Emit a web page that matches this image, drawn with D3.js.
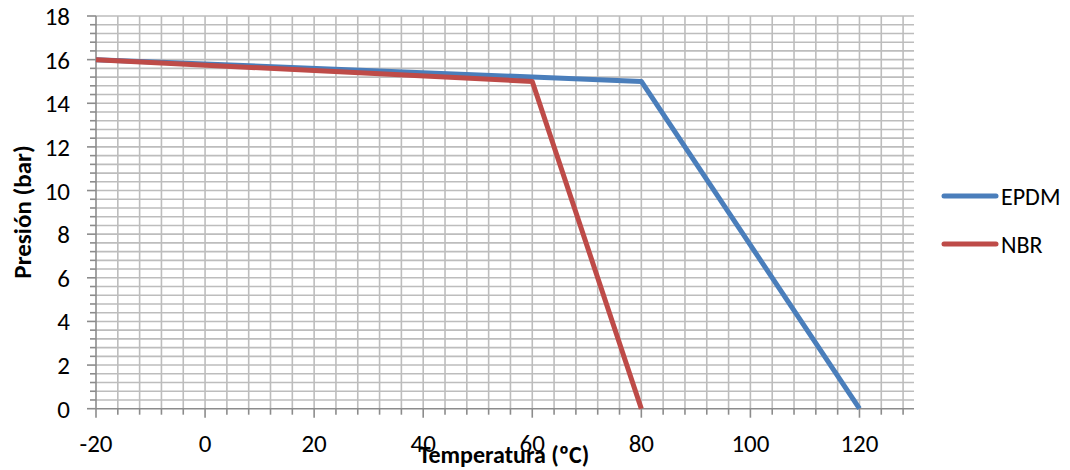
<!DOCTYPE html>
<html>
<head>
<meta charset="utf-8">
<script src="https://cdn.jsdelivr.net/npm/d3@7"></script>
<style>
  body { margin: 0; background: #fff; }
  text { font-family: Carlito, Lato, "Liberation Sans", sans-serif; }
</style>
</head>
<body>
<script>
// chart data
var seriesNames = ["EPDM", "NBR"];
var epdmTemp = [-20, 80, 120];
var epdmPres = [16, 15, 0];
var nbrTemp = [-20, 60, 80];
var nbrPres = [16, 15, 0];
var xTickLabels = [-20, 0, 20, 40, 60, 80, 100, 120];
var yTickLabels = [0, 2, 4, 6, 8, 10, 12, 14, 16, 18];

function show_chart(width, height) {
    var svg = d3.select("body").append("svg")
                .attr("width", width)
                .attr("height", height);

    var colors = ["#4a7ebb", "#be4b48"];
    var gridColor = "#bdbdbd";

    var xScale = d3.scaleLinear().domain([-20, 130]).range([96, 914]);
    var yScale = d3.scaleLinear().domain([0, 18]).range([408.7, 16]);

    // minor gridlines
    var xGrid = d3.range(-16, 129, 4);
    var yGrid = d3.range(1, 46).map(function(i) { return +(i * 0.4).toFixed(1); });

    svg.append("g").selectAll("line")
        .data(xGrid).enter().append("line")
        .attr("x1", function(d) { return xScale(d); })
        .attr("x2", function(d) { return xScale(d); })
        .attr("y1", yScale(0)).attr("y2", yScale(18))
        .attr("stroke", gridColor).attr("stroke-width", 1.6);

    svg.append("g").selectAll("line")
        .data(yGrid).enter().append("line")
        .attr("x1", xScale(-20)).attr("x2", xScale(130))
        .attr("y1", function(d) { return yScale(d); })
        .attr("y2", function(d) { return yScale(d); })
        .attr("stroke", gridColor).attr("stroke-width", 1.6);

    // axes
    var axisColor = "#8c8c8c";
    var xAxis = svg.append("g").attr("transform", "translate(0," + yScale(0) + ")");
    xAxis.append("line").attr("x1", xScale(-20)).attr("x2", xScale(130))
        .attr("stroke", axisColor).attr("stroke-width", 1.6);
    xAxis.selectAll(".tk").data(d3.range(-20, 129, 4)).enter().append("line")
        .attr("x1", function(d) { return xScale(d); })
        .attr("x2", function(d) { return xScale(d); })
        .attr("y1", 0)
        .attr("y2", function(d) { return (d % 20 === 0) ? 9 : 6; })
        .attr("stroke", axisColor).attr("stroke-width", 1.6);
    xAxis.selectAll("text").data(xTickLabels).enter().append("text")
        .attr("x", function(d) { return xScale(d); })
        .attr("y", 43)
        .attr("text-anchor", "middle")
        .style("font-size", "25px")
        .attr("fill", "#000")
        .text(function(d) { return d; });

    var yAxis = svg.append("g").attr("transform", "translate(" + xScale(-20) + ",0)");
    yAxis.append("line").attr("y1", yScale(0)).attr("y2", yScale(18))
        .attr("stroke", axisColor).attr("stroke-width", 1.6);
    yAxis.selectAll(".tk").data([0].concat(yGrid)).enter().append("line")
        .attr("y1", function(d) { return yScale(d); })
        .attr("y2", function(d) { return yScale(d); })
        .attr("x1", 0)
        .attr("x2", function(d) { return (Math.abs(d / 2 - Math.round(d / 2)) < 1e-6) ? -9 : -6; })
        .attr("stroke", axisColor).attr("stroke-width", 1.6);
    yAxis.selectAll("text").data(yTickLabels).enter().append("text")
        .attr("x", -26)
        .attr("y", function(d) { return yScale(d) + 9; })
        .attr("text-anchor", "end")
        .style("font-size", "25px")
        .attr("fill", "#000")
        .text(function(d) { return d; });

    // series lines
    var series = [
        { name: seriesNames[0], t: epdmTemp, p: epdmPres },
        { name: seriesNames[1], t: nbrTemp, p: nbrPres }
    ];
    var line = d3.line()
        .x(function(d) { return xScale(d[0]); })
        .y(function(d) { return yScale(d[1]); });

    svg.selectAll(".series").data(series).enter().append("path")
        .attr("d", function(s) { return line(d3.zip(s.t, s.p)); })
        .attr("fill", "none")
        .attr("stroke", function(s, i) { return colors[i]; })
        .attr("stroke-width", 5)
        .attr("stroke-linejoin", "round");

    // legend
    var legend = svg.selectAll(".legend").data(series).enter().append("g")
        .attr("transform", function(s, i) { return "translate(944," + (196 + i * 48) + ")"; });
    legend.append("line")
        .attr("x1", 0).attr("x2", 52)
        .attr("stroke", function(s, i) { return colors[i]; })
        .attr("stroke-width", 5)
        .attr("stroke-linecap", "round");
    legend.append("text")
        .attr("x", 57).attr("y", 8.5)
        .style("font-size", "24px")
        .text(function(s) { return s.name; });

    // axis titles
    svg.append("text")
        .attr("x", 504).attr("y", 463)
        .attr("text-anchor", "middle")
        .style("font-size", "24px")
        .attr("font-weight", "bold")
        .text("Temperatura (ºC)");

    svg.append("text")
        .attr("transform", "translate(31,212) rotate(-90)")
        .attr("text-anchor", "middle")
        .style("font-size", "25px")
        .attr("font-weight", "bold")
        .text("Presión (bar)");
}

var width = 1070;
var height = 470;

document.addEventListener("DOMContentLoaded", show_chart(width, height));
</script>
</body>
</html>
